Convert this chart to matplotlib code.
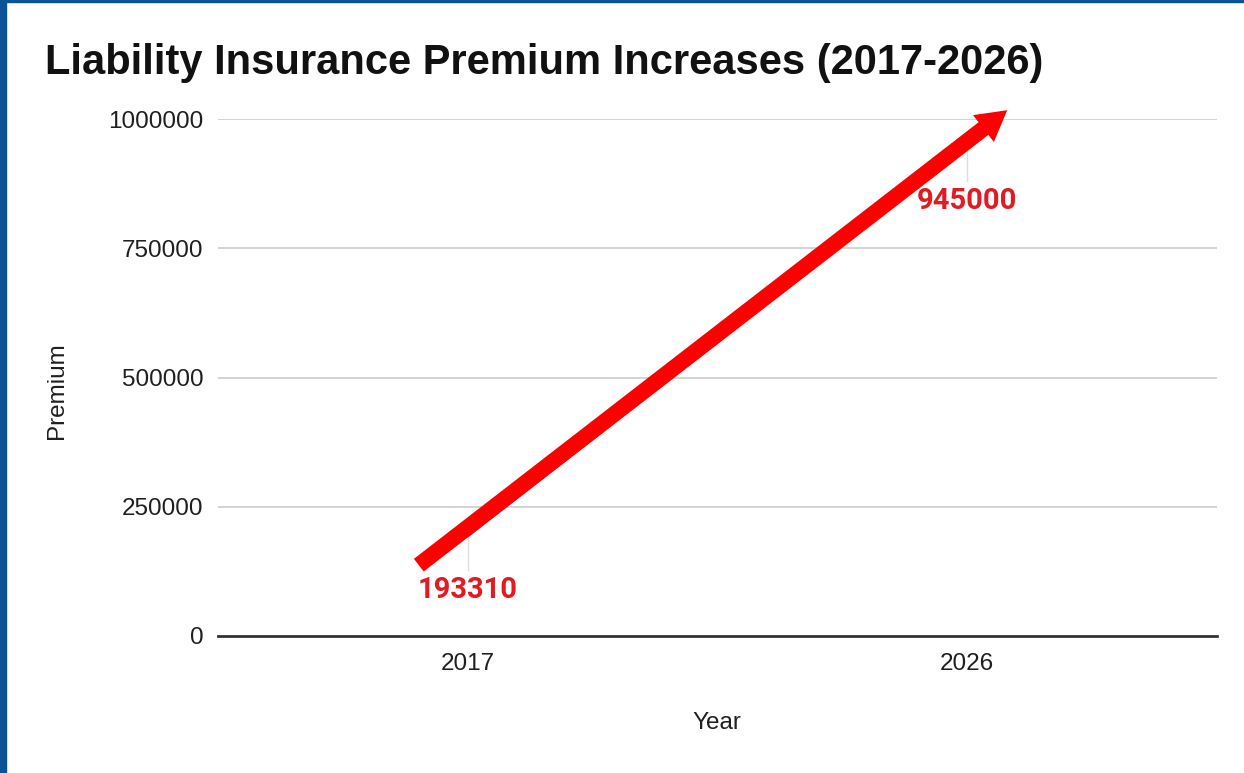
import matplotlib
matplotlib.use("Agg")
import matplotlib.pyplot as plt
from matplotlib.patches import FancyArrow, Rectangle
from matplotlib.transforms import IdentityTransform

# Data
years = ["2017", "2026"]
premiums = [193310, 945000]
y_ticks = [0, 250000, 500000, 750000, 1000000]
title = "Liability Insurance Premium Increases (2017-2026)"

# Annotation arrow (data coords: category index, premium)
arrow_start = (-0.098, 137000)
arrow_end = (1.080, 1017000)

fig = plt.figure(figsize=(12.44, 7.73), dpi=100)
fig.patch.set_facecolor("white")

W, H = 1244, 773
ax = fig.add_axes([218 / W, 1 - 636 / H, 999 / W, 517 / H])
ax.set_facecolor("white")

x = list(range(len(years)))
ax.set_xlim(-0.5, 1.5)
ax.set_ylim(0, 1000000)
ax.set_yticks(y_ticks)
ax.set_yticklabels([str(v) for v in y_ticks])
ax.set_xticks(x)
ax.set_xticklabels(years)

for v in y_ticks[1:]:
    ax.axhline(v, color="#cccccc", lw=1.2, zorder=0)
ax.axhline(0, color="#333333", lw=2, zorder=1, clip_on=False)

for s in ax.spines.values():
    s.set_visible(False)
ax.tick_params(axis="both", length=0, labelsize=17.5, colors="#1f1f1f")
ax.tick_params(axis="y", pad=10.5)
ax.tick_params(axis="x", pad=12)
for lab in ax.get_yticklabels() + ax.get_xticklabels():
    lab.set_fontfamily("Liberation Sans")

# Series line
ax.plot(x, premiums, color="#4285f4", lw=2, zorder=2)

# Leader lines and data labels
for xi, p in zip(x, premiums):
    ax.plot([xi, xi], [p, p - 65000], color="#dddddd", lw=1, zorder=1)
    ax.text(xi, p - 104000, f"{p}", ha="center", va="center", color="#e01b22",
            fontsize=21, fontweight="bold", fontfamily="Roboto", zorder=4)

# Red arrow drawn in pixel space so the head keeps its shape
p0 = ax.transData.transform(arrow_start)
p1 = ax.transData.transform(arrow_end)
arrow = FancyArrow(p0[0], p0[1], p1[0] - p0[0], p1[1] - p0[1],
                   width=16, head_width=34, head_length=30,
                   length_includes_head=True, transform=IdentityTransform(),
                   color="#ff0000", lw=0, zorder=5)
fig.patches.append(arrow)

fig.text(717 / W, 1 - 723 / H, "Year", fontsize=17.5, fontfamily="Liberation Sans",
         ha="center", va="center", color="#1f1f1f")
fig.text(57 / W, 1 - 391 / H, "Premium", fontsize=17.5, fontfamily="Liberation Sans",
         ha="center", va="center", rotation=90, color="#1f1f1f")

fig.text(45 / W, 1 - 63 / H, title, fontsize=30, fontweight="bold",
         fontfamily="Liberation Sans", va="center", ha="left", color="#111111")

# Blue frame on left and top
fig.patches.append(Rectangle((0, 0), 6 / W, 1, transform=fig.transFigure,
                             color="#0c5297", zorder=10))
fig.patches.append(Rectangle((0, 1 - 2 / H), 1, 2 / H, transform=fig.transFigure,
                             color="#0c5297", zorder=10))

fig.savefig("out.png", dpi=100, facecolor="white")
